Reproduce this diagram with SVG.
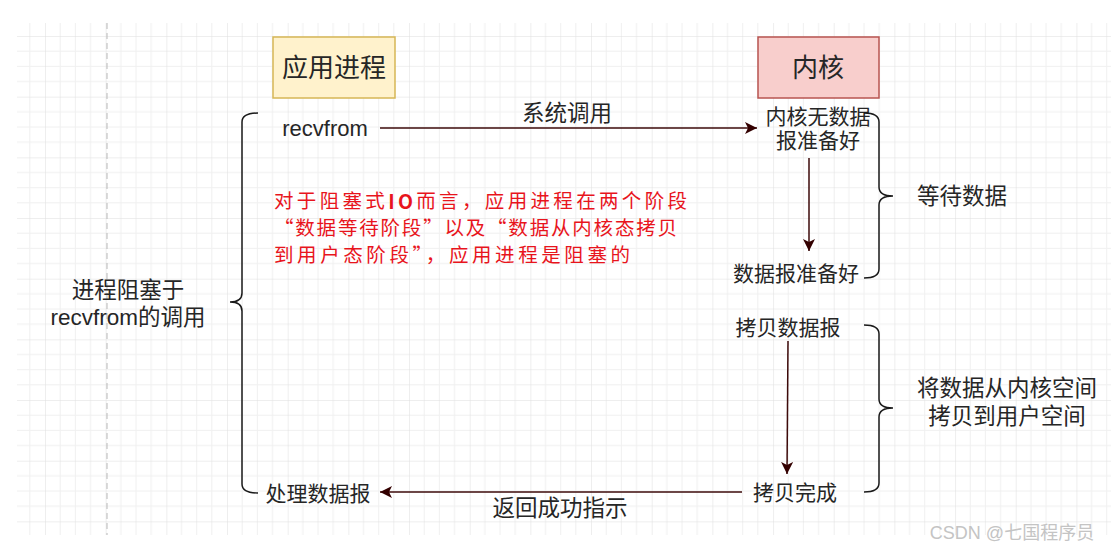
<svg xmlns="http://www.w3.org/2000/svg" width="1111" height="554" viewBox="0 0 1111 554">
<defs>
<pattern id="grid" patternUnits="userSpaceOnUse" x="45" y="36" width="60.67" height="60.67">
<path d="M15.17 0V60.67M30.33 0V60.67M45.5 0V60.67M0 15.17H60.67M0 30.33H60.67M0 45.5H60.67" stroke="#f0f0f0" stroke-width="1" fill="none"/>
<path d="M0 0V60.67M0 0H60.67" stroke="#dedede" stroke-width="1" fill="none"/>
</pattern>
<marker id="ah" viewBox="0 0 12 12" refX="12" refY="6" markerWidth="12" markerHeight="12" markerUnits="userSpaceOnUse" orient="auto">
<path d="M0 0L12 6L0 12L3 6Z" fill="#330000"/>
</marker>
<style>
text{font-family:"Liberation Sans","Noto Sans CJK SC",sans-serif;fill:#262626;text-anchor:middle;dominant-baseline:central}
.lab{font-size:22.5px}
.sm{font-size:21px}
.title{font-size:26px}
.red{font-family:"Noto Sans CJK SC",sans-serif;font-size:19.5px;fill:#e8141c;text-anchor:start}
.conn{stroke:#3d0a0a;stroke-width:1.5;fill:none}
.brace{stroke:#1a1a1a;stroke-width:1.5;fill:none}
</style>
</defs>
<rect width="1111" height="554" fill="#ffffff"/>
<rect x="17" y="23" width="1094" height="512" fill="url(#grid)"/>
<line x1="107" y1="23" x2="107" y2="535" stroke="#b8b8b8" stroke-width="1" stroke-dasharray="6 4"/>

<g id="app">
<rect x="273" y="37" width="122" height="61" fill="#fff2cc" stroke="#d6b656" stroke-width="1.5"/>
<text class="title" x="334" y="68">应用进程</text>
</g>
<g id="kernel">
<rect x="758" y="37" width="121" height="61" fill="#f8cecc" stroke="#b85450" stroke-width="1.5"/>
<text class="title" x="818" y="68">内核</text>
</g>
<g id="recvfrom"><text style="font-size:22px" x="325" y="128">recvfrom</text></g>
<g id="nodata"><text class="sm" x="818" y="116">内核无数据</text><text class="sm" x="818" y="140">报准备好</text></g>
<g id="ready"><text class="sm" x="796" y="273">数据报准备好</text></g>
<g id="copy"><text class="sm" x="788" y="327">拷贝数据报</text></g>
<g id="copydone"><text class="sm" x="795" y="492">拷贝完成</text></g>
<g id="process"><text class="sm" x="318" y="493">处理数据报</text></g>
<g id="block-label"><text class="lab" x="128" y="290">进程阻塞于</text><text class="lab" x="128" y="317">recvfrom的调用</text></g>
<g id="wait-label"><text class="lab" x="962" y="196">等待数据</text></g>
<g id="copy-label"><text class="lab" x="1007" y="388">将数据从内核空间</text><text class="lab" x="1007" y="416">拷贝到用户空间</text></g>
<g id="note">
<text class="red" x="274" y="199.5" textLength="413" lengthAdjust="spacing">对于阻塞式<tspan font-weight="bold">IO</tspan>而言，应用进程在两个阶段</text>
<text class="red" x="274" y="226.5" textLength="403" lengthAdjust="spacing">“数据等待阶段”以及“数据从内核态拷贝</text>
<text class="red" x="274" y="253.5" textLength="356" lengthAdjust="spacing">到用户态阶段”，应用进程是阻塞的</text>
</g>

<g id="connectors">
<line class="conn" x1="380" y1="128" x2="757" y2="128" marker-end="url(#ah)"/>
<text class="lab" x="567" y="113">系统调用</text>
<line class="conn" x1="809" y1="158" x2="809" y2="251" marker-end="url(#ah)"/>
<line class="conn" x1="788" y1="341" x2="787" y2="474" marker-end="url(#ah)"/>
<line class="conn" x1="742" y1="492" x2="380" y2="492" marker-end="url(#ah)"/>
<text class="lab" x="560" y="508">返回成功指示</text>
</g>

<g id="braces">
<path class="brace" d="M258 113Q242 113 242 122V293Q242 302 230 302Q242 302 242 311V484Q242 493 258 493"/>
<path class="brace" d="M864 113Q879 113 879 122V187Q879 196 893 196Q879 196 879 205V269Q879 278 864 278"/>
<path class="brace" d="M864 325Q879 325 879 334V399Q879 408 893 408Q879 408 879 417V483Q879 492 864 492"/>
</g>
<text x="1012" y="533" style="font-size:18px;fill:#c4c4c4">CSDN @七国程序员</text>
</svg>
